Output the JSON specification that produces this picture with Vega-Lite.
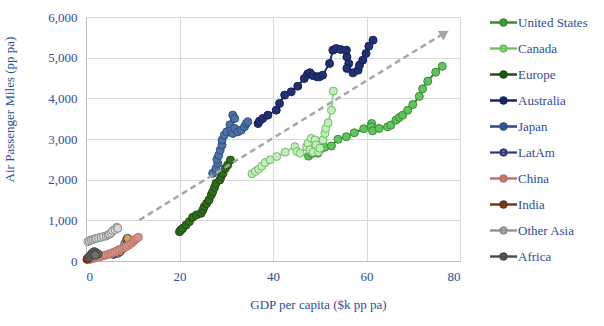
{
  "$schema": "https://vega.github.io/schema/vega-lite/v6.json",
  "autosize": {"type": "none"},
  "width": 374,
  "height": 244,
  "padding": {"left": 86, "top": 17, "right": 144, "bottom": 65},
  "config": {
    "view": {"stroke": null},
    "font": "Liberation Serif",
    "axis": {
      "labelFont": "Liberation Serif", "titleFont": "Liberation Serif",
      "labelColor": "#2e4d9c", "titleColor": "#2e4d9c",
      "labelFontSize": 13, "titleFontSize": 13, "titleFontWeight": "normal",
      "gridColor": "#d9d9d9", "domainColor": "#bfbfbf", "ticks": false
    },
    "legend": {
      "labelFont": "Liberation Serif", "labelColor": "#2e4d9c", "labelFontSize": 13, "labelFontWeight": "normal"
    }
  },
  "datasets": {
    "d": [
      {"s":"United States","x":47.6,"y":2580},{"s":"United States","x":48.3,"y":2640},{"s":"United States","x":48.9,"y":2690},{"s":"United States","x":49.6,"y":2651},{"s":"United States","x":50.0,"y":2732},{"s":"United States","x":51.1,"y":2797},{"s":"United States","x":52.5,"y":2829},{"s":"United States","x":53.9,"y":2992},{"s":"United States","x":55.7,"y":3057},{"s":"United States","x":57.4,"y":3154},{"s":"United States","x":59.4,"y":3252},{"s":"United States","x":61.1,"y":3382},{"s":"United States","x":61.0,"y":3300},{"s":"United States","x":61.3,"y":3200},{"s":"United States","x":62.7,"y":3260},{"s":"United States","x":64.5,"y":3300},{"s":"United States","x":65.2,"y":3341},{"s":"United States","x":66.3,"y":3463},{"s":"United States","x":67.0,"y":3528},{"s":"United States","x":67.7,"y":3585},{"s":"United States","x":68.8,"y":3707},{"s":"United States","x":69.9,"y":3846},{"s":"United States","x":71.3,"y":4049},{"s":"United States","x":72.0,"y":4236},{"s":"United States","x":73.1,"y":4423},{"s":"United States","x":74.8,"y":4643},{"s":"United States","x":76.2,"y":4788},
      {"s":"Canada","x":35.5,"y":2146},{"s":"Canada","x":36.2,"y":2203},{"s":"Canada","x":36.9,"y":2260},{"s":"Canada","x":37.6,"y":2330},{"s":"Canada","x":38.3,"y":2422},{"s":"Canada","x":39.4,"y":2488},{"s":"Canada","x":40.8,"y":2569},{"s":"Canada","x":42.6,"y":2675},{"s":"Canada","x":44.7,"y":2812},{"s":"Canada","x":45.1,"y":2690},{"s":"Canada","x":45.8,"y":2651},{"s":"Canada","x":47.2,"y":2812},{"s":"Canada","x":47.5,"y":2895},{"s":"Canada","x":48.2,"y":3016},{"s":"Canada","x":49.0,"y":2976},{"s":"Canada","x":49.2,"y":2854},{"s":"Canada","x":47.9,"y":2732},{"s":"Canada","x":48.6,"y":2680},{"s":"Canada","x":49.7,"y":2690},{"s":"Canada","x":50.0,"y":2773},{"s":"Canada","x":50.7,"y":2976},{"s":"Canada","x":51.1,"y":3138},{"s":"Canada","x":51.3,"y":3260},{"s":"Canada","x":51.8,"y":3398},{"s":"Canada","x":52.5,"y":3708},{"s":"Canada","x":52.9,"y":4178},
      {"s":"Europe","x":20.0,"y":720},{"s":"Europe","x":20.3,"y":760},{"s":"Europe","x":20.7,"y":803},{"s":"Europe","x":21.4,"y":885},{"s":"Europe","x":22.1,"y":966},{"s":"Europe","x":22.8,"y":1073},{"s":"Europe","x":23.6,"y":1130},{"s":"Europe","x":24.6,"y":1172},{"s":"Europe","x":25.0,"y":1253},{"s":"Europe","x":25.3,"y":1334},{"s":"Europe","x":25.8,"y":1418},{"s":"Europe","x":26.3,"y":1499},{"s":"Europe","x":26.8,"y":1622},{"s":"Europe","x":27.1,"y":1703},{"s":"Europe","x":27.5,"y":1810},{"s":"Europe","x":27.8,"y":1909},{"s":"Europe","x":28.6,"y":1990},{"s":"Europe","x":28.9,"y":2071},{"s":"Europe","x":29.3,"y":2155},{"s":"Europe","x":29.8,"y":2277},{"s":"Europe","x":30.3,"y":2359},{"s":"Europe","x":30.9,"y":2482},
      {"s":"Australia","x":36.8,"y":3380},{"s":"Australia","x":37.1,"y":3440},{"s":"Australia","x":37.8,"y":3506},{"s":"Australia","x":38.9,"y":3587},{"s":"Australia","x":40.7,"y":3710},{"s":"Australia","x":41.4,"y":3875},{"s":"Australia","x":42.5,"y":4079},{"s":"Australia","x":43.9,"y":4160},{"s":"Australia","x":45.3,"y":4300},{"s":"Australia","x":46.7,"y":4489},{"s":"Australia","x":47.4,"y":4600},{"s":"Australia","x":47.9,"y":4630},{"s":"Australia","x":48.5,"y":4560},{"s":"Australia","x":49.4,"y":4530},{"s":"Australia","x":49.9,"y":4529},{"s":"Australia","x":50.6,"y":4570},{"s":"Australia","x":52.1,"y":4857},{"s":"Australia","x":52.8,"y":5184},{"s":"Australia","x":53.5,"y":5226},{"s":"Australia","x":54.5,"y":5200},{"s":"Australia","x":55.7,"y":5184},{"s":"Australia","x":55.8,"y":5020},{"s":"Australia","x":56.2,"y":4857},{"s":"Australia","x":55.8,"y":4735},{"s":"Australia","x":57.1,"y":4627},{"s":"Australia","x":58.2,"y":4693},{"s":"Australia","x":58.5,"y":4816},{"s":"Australia","x":59.2,"y":4939},{"s":"Australia","x":59.9,"y":5103},{"s":"Australia","x":60.5,"y":5283},{"s":"Australia","x":61.4,"y":5430},
      {"s":"Japan","x":27.1,"y":2155},{"s":"Japan","x":27.8,"y":2277},{"s":"Japan","x":28.2,"y":2400},{"s":"Japan","x":28.0,"y":2499},{"s":"Japan","x":28.4,"y":2604},{"s":"Japan","x":28.7,"y":2727},{"s":"Japan","x":29.1,"y":2850},{"s":"Japan","x":29.1,"y":2973},{"s":"Japan","x":29.6,"y":3096},{"s":"Japan","x":30.1,"y":3177},{"s":"Japan","x":30.8,"y":3350},{"s":"Japan","x":31.4,"y":3587},{"s":"Japan","x":31.8,"y":3506},{"s":"Japan","x":31.0,"y":3202},{"s":"Japan","x":31.4,"y":3138},{"s":"Japan","x":31.8,"y":3260},{"s":"Japan","x":32.5,"y":3177},{"s":"Japan","x":33.2,"y":3219},{"s":"Japan","x":33.9,"y":3300},{"s":"Japan","x":34.3,"y":3383},{"s":"Japan","x":34.6,"y":3423},
      {"s":"LatAm","x":5.8,"y":160},{"s":"LatAm","x":6.3,"y":180},{"s":"LatAm","x":6.8,"y":190},{"s":"LatAm","x":7.3,"y":230},{"s":"LatAm","x":7.8,"y":300},{"s":"LatAm","x":8.3,"y":420},{"s":"LatAm","x":8.7,"y":530},{"s":"LatAm","x":8.9,"y":557},
      {"s":"China","x":0.8,"y":40},{"s":"China","x":1.1,"y":50},{"s":"China","x":1.5,"y":66},{"s":"China","x":1.9,"y":75},{"s":"China","x":2.4,"y":90},{"s":"China","x":2.9,"y":106},{"s":"China","x":3.4,"y":120},{"s":"China","x":3.9,"y":135},{"s":"China","x":4.3,"y":147},{"s":"China","x":4.8,"y":165},{"s":"China","x":5.3,"y":185},{"s":"China","x":5.7,"y":204},{"s":"China","x":6.2,"y":230},{"s":"China","x":6.7,"y":258},{"s":"China","x":7.2,"y":287},{"s":"China","x":7.7,"y":305},{"s":"China","x":8.2,"y":330},{"s":"China","x":8.6,"y":352},{"s":"China","x":9.1,"y":390},{"s":"China","x":9.7,"y":434},{"s":"China","x":10.1,"y":480},{"s":"China","x":10.4,"y":516},{"s":"China","x":10.8,"y":550},{"s":"China","x":11.2,"y":582},
      {"s":"India","x":0.2,"y":40},{"s":"India","x":0.3,"y":50},{"s":"India","x":0.4,"y":60},{"s":"India","x":0.5,"y":70},{"s":"India","x":0.6,"y":85},{"s":"India","x":0.7,"y":95},{"s":"India","x":0.8,"y":110},{"s":"India","x":1.0,"y":125},{"s":"India","x":1.2,"y":140},{"s":"India","x":1.4,"y":160},{"s":"India","x":1.6,"y":175},
      {"s":"Other Asia","x":0.4,"y":474},{"s":"Other Asia","x":0.7,"y":500},{"s":"Other Asia","x":1.1,"y":516},{"s":"Other Asia","x":1.5,"y":530},{"s":"Other Asia","x":1.9,"y":545},{"s":"Other Asia","x":2.2,"y":557},{"s":"Other Asia","x":2.7,"y":570},{"s":"Other Asia","x":3.2,"y":582},{"s":"Other Asia","x":3.7,"y":600},{"s":"Other Asia","x":4.3,"y":614},{"s":"Other Asia","x":4.7,"y":640},{"s":"Other Asia","x":5.0,"y":660},{"s":"Other Asia","x":5.4,"y":690},{"s":"Other Asia","x":5.7,"y":745},{"s":"Other Asia","x":6.2,"y":770},{"s":"Other Asia","x":6.6,"y":830},{"s":"Other Asia","x":6.8,"y":803},
      {"s":"Africa","x":0.8,"y":100},{"s":"Africa","x":1.0,"y":140},{"s":"Africa","x":1.2,"y":170},{"s":"Africa","x":1.4,"y":200},{"s":"Africa","x":1.6,"y":220},{"s":"Africa","x":1.8,"y":230},{"s":"Africa","x":2.0,"y":215},{"s":"Africa","x":2.2,"y":195},{"s":"Africa","x":2.4,"y":180},{"s":"Africa","x":2.6,"y":170},{"s":"Africa","x":2.2,"y":160},{"s":"Africa","x":2.0,"y":140}
    ],
    "arrow": [{"x": 11.4, "y": 1007, "x2": 76.0, "y2": 5560}],
    "head": [{"x": 76.7, "y": 5600}]
  },
  "layer": [
    {
      "data": {"name": "d"},
      "mark": {"type": "line", "strokeWidth": 2},
      "encoding": {
        "x": {"field": "x", "type": "quantitative", "scale": {"domain": [0, 80], "nice": false},
              "axis": {"values": [0, 20, 40, 60, 80], "format": ",.0f", "title": "GDP per capita ($k pp pa)", "labelPadding": 9, "titleX": 232, "titleY": 37, "domainColor": "#bfbfbf"}},
        "y": {"field": "y", "type": "quantitative", "scale": {"domain": [0, 6000], "nice": false},
              "axis": {"values": [0, 1000, 2000, 3000, 4000, 5000, 6000], "format": ",.0f", "title": "Air Passenger Miles (pp pa)", "labelPadding": 9, "titleX": -70, "titleY": 92, "domainColor": "#bfbfbf"}},
        "color": {"field": "s", "type": "nominal",
                  "scale": {"domain": ["United States","Canada","Europe","Australia","Japan","LatAm","China","India","Other Asia","Africa"],
                            "range": ["#3d7a2a","#8fd88a","#2e6b1e","#1f2e6e","#283a7c","#d9a937","#d4948b","#8c4a2a","#c8c8c8","#6d6d6d"]},
                  "legend": {"title": null, "orient": "none", "legendX": 403, "legendY": -9, "symbolType": "M-1,0H1M-0.22,0A0.22,0.22,0,1,1,0.22,0A0.22,0.22,0,1,1,-0.22,0Z", "symbolSize": 729, "symbolStrokeWidth": 2, "rowPadding": 4, "labelOffset": 0, "padding": 0, "labelFontWeight": "normal"}},
        "detail": {"field": "s"},
        "order": {"value": null}
      }
    },
    {
      "data": {"name": "d"},
      "mark": {"type": "point", "filled": true, "opacity": 1, "size": 64, "shape": "circle", "strokeWidth": 1},
      "encoding": {
        "x": {"field": "x", "type": "quantitative"},
        "y": {"field": "y", "type": "quantitative"},
        "fill": {"field": "s", "type": "nominal",
                 "scale": {"domain": ["United States","Canada","Europe","Australia","Japan","LatAm","China","India","Other Asia","Africa"],
                           "range": ["#5ec45e","#c6ebbf","#2f6b1c","#22306e","#4e72a2","#d8a935","#d99389","#8b4a2b","#d9d9d9","#707070"]},
                 "legend": {"title": null, "orient": "none", "legendX": 403, "legendY": -9, "symbolType": "M-1,0H1M-0.22,0A0.22,0.22,0,1,1,0.22,0A0.22,0.22,0,1,1,-0.22,0Z", "symbolSize": 729, "symbolStrokeWidth": 2, "rowPadding": 4, "labelOffset": 0, "padding": 0, "labelFontWeight": "normal", "labelOpacity": 0}},
        "stroke": {"field": "s", "type": "nominal",
                   "scale": {"domain": ["United States","Canada","Europe","Australia","Japan","LatAm","China","India","Other Asia","Africa"],
                             "range": ["#3a8a30","#6cbf62","#1f4d12","#152060","#2e4d85","#2a3a7c","#b87269","#6b3519","#8c8c8c","#4a4a4a"]},
                   "legend": null}
      }
    },
    {
      "data": {"name": "arrow"},
      "mark": {"type": "rule", "color": "#a6a6a6", "strokeWidth": 2.5, "strokeDash": [6, 4]},
      "encoding": {
        "x": {"field": "x", "type": "quantitative"},
        "y": {"field": "y", "type": "quantitative"},
        "x2": {"field": "x2"},
        "y2": {"field": "y2"}
      }
    },
    {
      "data": {"name": "head"},
      "mark": {"type": "point", "shape": "triangle-up", "filled": true, "opacity": 1, "color": "#a6a6a6", "size": 120, "angle": 58.5},
      "encoding": {
        "x": {"field": "x", "type": "quantitative"},
        "y": {"field": "y", "type": "quantitative"}
      }
    }
  ],
  "resolve": {"scale": {"color": "independent", "fill": "independent", "stroke": "independent"}}
}
